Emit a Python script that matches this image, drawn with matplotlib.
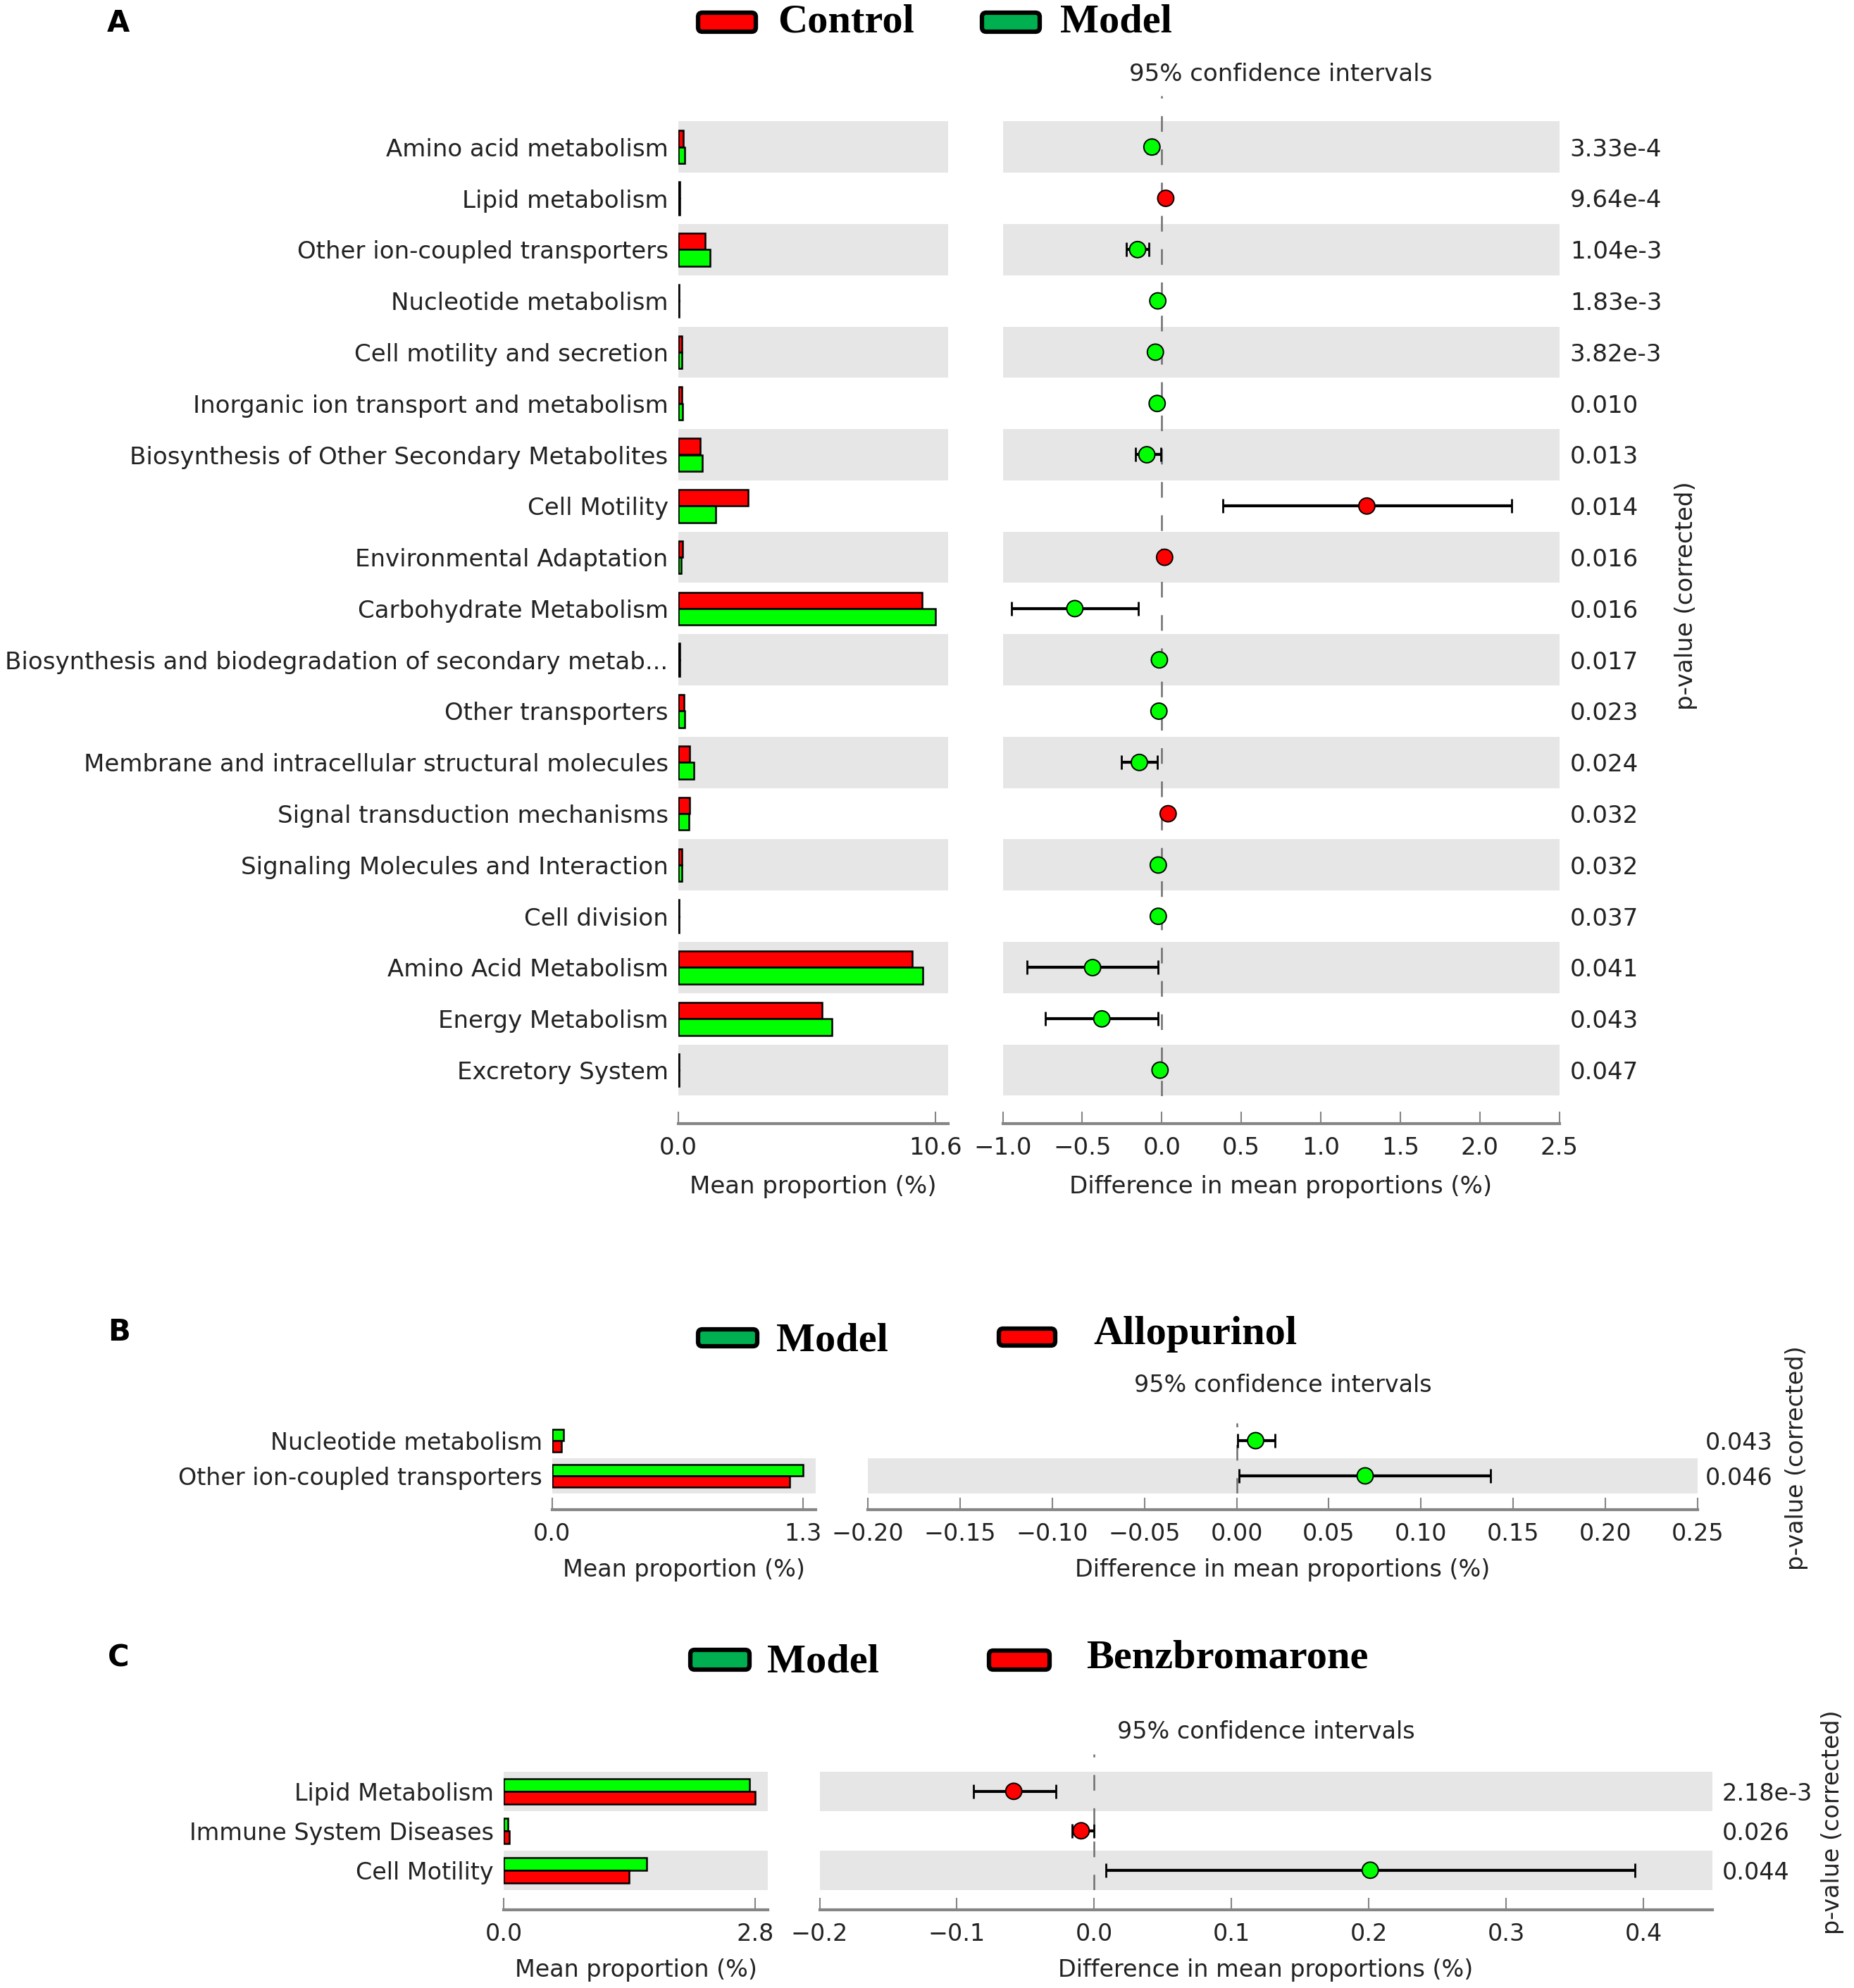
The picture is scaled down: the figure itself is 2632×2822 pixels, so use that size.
import numpy as np
import matplotlib
matplotlib.use("Agg")
import matplotlib.pyplot as plt
from matplotlib.patches import FancyBboxPatch
from matplotlib.ticker import FuncFormatter

W, H = 2632, 2822

# ---- panel A : Control vs Model
labels_a = ["Amino acid metabolism", "Lipid metabolism", "Other ion-coupled transporters",
            "Nucleotide metabolism", "Cell motility and secretion",
            "Inorganic ion transport and metabolism", "Biosynthesis of Other Secondary Metabolites",
            "Cell Motility", "Environmental Adaptation", "Carbohydrate Metabolism",
            "Biosynthesis and biodegradation of secondary metab...", "Other transporters",
            "Membrane and intracellular structural molecules", "Signal transduction mechanisms",
            "Signaling Molecules and Interaction", "Cell division", "Amino Acid Metabolism",
            "Energy Metabolism", "Excretory System"]
control_a = [0.23, 0.07, 1.11, 0.05, 0.15, 0.17, 0.91, 2.90, 0.18, 10.08,
             0.06, 0.26, 0.49, 0.47, 0.15, 0.05, 9.67, 5.94, 0.04]
model_a = [0.29, 0.06, 1.32, 0.05, 0.15, 0.20, 1.01, 1.56, 0.12, 10.63,
           0.06, 0.29, 0.65, 0.44, 0.15, 0.05, 10.11, 6.35, 0.04]
diff_a = [-0.062, 0.025, -0.152, -0.025, -0.040, -0.029, -0.094, 1.29, 0.018, -0.547,
          -0.015, -0.018, -0.141, 0.040, -0.022, -0.022, -0.435, -0.377, -0.011]
lo_a = [-0.090, 0.010, -0.221, -0.035, -0.055, -0.040, -0.167, 0.384, 0.005, -0.946,
        -0.025, -0.028, -0.254, 0.020, -0.032, -0.032, -0.848, -0.732, -0.020]
hi_a = [-0.035, 0.040, -0.083, -0.015, -0.025, -0.018, -0.004, 2.199, 0.030, -0.149,
        -0.005, -0.008, -0.029, 0.060, -0.012, -0.012, -0.022, -0.022, -0.002]
p_a = ["3.33e-4", "9.64e-4", "1.04e-3", "1.83e-3", "3.82e-3", "0.010", "0.013", "0.014",
       "0.016", "0.016", "0.017", "0.023", "0.024", "0.032", "0.032", "0.037", "0.041",
       "0.043", "0.047"]
ticks_a = [-1.0, -0.5, 0.0, 0.5, 1.0, 1.5, 2.0, 2.5]

# ---- panel B : Model vs Allopurinol
labels_b = ["Nucleotide metabolism", "Other ion-coupled transporters"]
model_b = [0.06, 1.30]
allo_b = [0.05, 1.23]
diff_b = [0.0103, 0.0697]
lo_b = [0.0005, 0.0013]
hi_b = [0.0208, 0.1377]
p_b = ["0.043", "0.046"]
ticks_b = [-0.20, -0.15, -0.10, -0.05, 0.00, 0.05, 0.10, 0.15, 0.20, 0.25]

# ---- panel C : Model vs Benzbromarone
labels_c = ["Lipid Metabolism", "Immune System Diseases", "Cell Motility"]
model_c = [2.737, 0.05, 1.594]
benz_c = [2.80, 0.06, 1.394]
diff_c = [-0.0586, -0.0095, 0.201]
lo_c = [-0.088, -0.016, 0.0085]
hi_c = [-0.028, 0.0, 0.3935]
p_c = ["2.18e-3", "0.026", "0.044"]
ticks_c = [-0.2, -0.1, 0.0, 0.1, 0.2, 0.3, 0.4]

RED = "#ff0000"
GREEN = "#00ff00"
LEG_GREEN = "#00b050"
BAND = "#e6e6e6"
SPINE = "#858585"
TXT = "#222222"

plt.rcParams["font.family"] = "DejaVu Sans"
plt.rcParams["lines.scale_dashes"] = False

fig = plt.figure(figsize=(W / 100, H / 100), dpi=100)


def box(x0, x1, top, bot):
    return [x0 / W, 1 - bot / H, (x1 - x0) / W, (bot - top) / H]


def style_x(ax, offset, fs):
    for s in ["left", "right", "top"]:
        ax.spines[s].set_visible(False)
    ax.spines["bottom"].set_position(("outward", offset))
    ax.spines["bottom"].set_color(SPINE)
    ax.spines["bottom"].set_linewidth(3)
    ax.tick_params(axis="x", direction="in", length=12, width=1.5, color=SPINE,
                   pad=13, labelsize=fs, labelcolor=TXT)


def bands(ax, n):
    for i in range(n):
        if (n - 1 - i) % 2 == 0:
            ax.axhspan(i - 0.5, i + 0.5, color=BAND, lw=0, zorder=0)


def panel(labels, first, second, c1, c2, diff, lo, hi, pvals, lbox, rbox, ylim,
          ticks, xmax, fmt, offset, tpad, fs, lpad, ppad, ypad):
    n = len(labels)
    y = np.arange(n)
    h = 0.32

    # mean proportions
    axl = fig.add_axes(lbox)
    bands(axl, n)
    axl.barh(y - h / 2, first, height=h, color=c1, edgecolor="black", lw=1.8, zorder=2)
    axl.barh(y + h / 2, second, height=h, color=c2, edgecolor="black", lw=1.8, zorder=2)
    top = max(max(first), max(second))
    axl.set_xlim(0, top * 1.05)
    axl.set_ylim(*ylim)
    axl.set_xticks([0, top])
    axl.set_xticklabels(["0.0", "%.1f" % top])
    axl.set_yticks(y)
    axl.set_yticklabels(labels)
    axl.tick_params(axis="y", length=0, pad=10, labelsize=fs, labelcolor=TXT)
    style_x(axl, offset, fs)
    axl.set_xlabel("Mean proportion (%)", fontsize=fs, color=TXT, labelpad=lpad)

    # difference with confidence intervals
    axr = fig.add_axes(rbox)
    bands(axr, n)
    axr.axvline(0, color="#6e6e6e", lw=1.8, ls=(0, (16, 18)), zorder=1)
    d = np.array(diff)
    err = [d - np.array(lo), np.array(hi) - d]
    axr.errorbar(d, y, xerr=err, fmt="none", ecolor="black", elinewidth=3.0,
                 capsize=7, capthick=2.0, zorder=3)
    cols = [c1 if v > 0 else c2 for v in diff]
    axr.scatter(d, y, s=16.5 ** 2, c=cols, edgecolors="black", linewidths=1.4, zorder=4)
    axr.set_xlim(ticks[0], xmax)
    axr.set_ylim(*ylim)
    axr.set_xticks(ticks)
    axr.xaxis.set_major_formatter(FuncFormatter(lambda v, p: (fmt % v).replace("-", "\u2212")))
    axr.set_yticks([])
    style_x(axr, offset, fs)
    axr.set_xlabel("Difference in mean proportions (%)", fontsize=fs, color=TXT, labelpad=lpad)
    axr.set_title("95% confidence intervals", fontsize=fs, color=TXT, pad=tpad)

    axp = axr.twinx()
    axp.set_ylim(*ylim)
    axp.set_yticks(y)
    axp.set_yticklabels(pvals)
    axp.tick_params(axis="y", length=0, pad=ppad, labelsize=fs, labelcolor=TXT)
    for s in axp.spines.values():
        s.set_visible(False)
    axp.set_ylabel("p-value (corrected)", fontsize=fs, color=TXT, labelpad=ypad)
    return axl, axr


panel(labels_a, control_a, model_a, RED, GREEN, diff_a, lo_a, hi_a, p_a,
      box(962.5, 1346, 135.9, 1555.5), box(1423.6, 2213.5, 135.9, 1555.5), (18.5, -1.0),
      ticks_a, 2.5, "%.1f", 28.4, 15, 24.5, 16, 11, 13)
panel(labels_b, model_b, allo_b, GREEN, RED, diff_b, lo_b, hi_b, p_b,
      box(783.6, 1158, 2020, 2120), box(1232, 2410, 2020, 2120), (1.5, -0.5),
      ticks_b, 0.25, "%.2f", 16.6, 32, 24, 13, 8, 12)
panel(labels_c, model_c, benz_c, GREEN, RED, diff_c, lo_c, hi_c, p_c,
      box(715, 1090, 2489.6, 2682.8), box(1163.5, 2430.7, 2489.6, 2682.8), (2.5, -0.95),
      ticks_c, 0.45, "%.1f", 20, 15.5, 24, 13, 10, 9)


# ---- group legends and panel letters (pixel positions, y from top)
def legend_patch(x0, x1, top, bot, color):
    p = FancyBboxPatch((x0 / 100, (H - bot) / 100), (x1 - x0) / 100, (bot - top) / 100,
                       boxstyle="round,pad=0,rounding_size=0.06", facecolor=color,
                       edgecolor="black", lw=4.5, transform=fig.dpi_scale_trans)
    fig.add_artist(p)


def fig_text(x, base, s, **kw):
    fig.text(x / W, 1 - base / H, s, va="baseline", ha="left", **kw)


legend_font = dict(family="Liberation Serif", weight="bold", fontsize=42, color="black")
letter_font = dict(weight="bold", fontsize=30, color="black")

legend_patch(991, 1073, 18, 45, RED)
fig_text(1104, 45, "Control", **legend_font)
legend_patch(1394, 1476, 18, 45, LEG_GREEN)
fig_text(1505, 45, "Model", **legend_font)

legend_patch(991, 1075, 1887, 1911, LEG_GREEN)
fig_text(1102, 1918, "Model", **legend_font)
legend_patch(1418, 1498, 1886, 1910, RED)
fig_text(1552, 1908, "Allopurinol", **legend_font)

legend_patch(980, 1064, 2342, 2370, LEG_GREEN)
fig_text(1089, 2373, "Model", **legend_font)
legend_patch(1404, 1490, 2343, 2370, RED)
fig_text(1542, 2367, "Benzbromarone", **legend_font)

fig_text(152, 45, "A", **letter_font)
fig_text(153, 1903, "B", **letter_font)
fig_text(153, 2366, "C", **letter_font)

fig.savefig("out.png", dpi=100, facecolor="white")
